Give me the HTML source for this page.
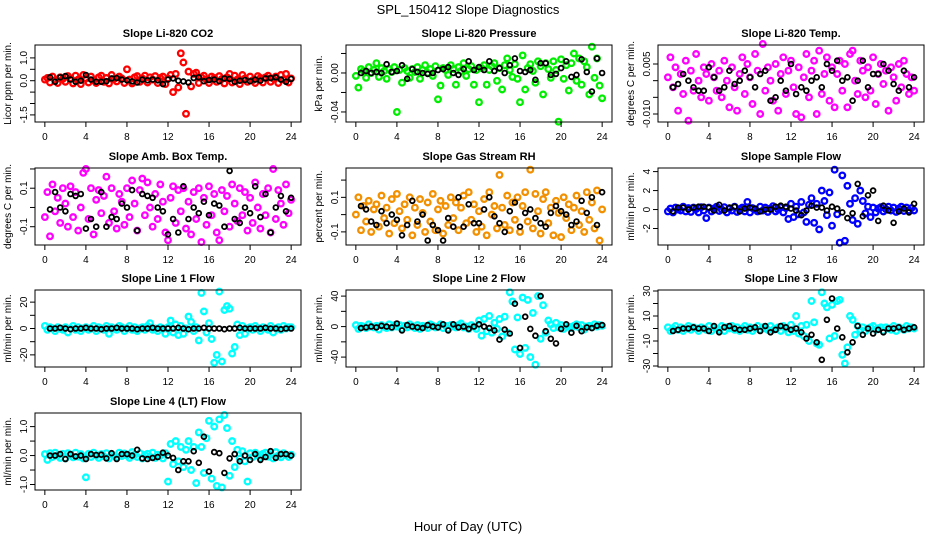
<!DOCTYPE html>
<html><head><meta charset="utf-8">
<style>
html,body{margin:0;padding:0;background:#fff;}
svg{display:block;font-family:"Liberation Sans",sans-serif;}
</style></head>
<body>
<svg id="chart" width="936" height="540" viewBox="0 0 936 540">
<text x="468" y="14" text-anchor="middle" font-size="13">SPL_150412  Slope Diagnostics</text>
<text x="468" y="531" text-anchor="middle" font-size="13">Hour of Day (UTC)</text>
</svg>
<script>
const hoursColored = [0,0.25,0.5,0.75,1,1.25,1.5,1.75,2,2.25,2.5,2.75,3,3.25,3.5,3.75,4,4.25,4.5,4.75,5,5.25,5.5,5.75,6,6.25,6.5,6.75,7,7.25,7.5,7.75,8,8.25,8.5,8.75,9,9.25,9.5,9.75,10,10.25,10.5,10.75,11,11.25,11.5,11.75,12,12.25,12.5,12.75,13,13.25,13.5,13.75,14,14.25,14.5,14.75,15,15.25,15.5,15.75,16,16.25,16.5,16.75,17,17.25,17.5,17.75,18,18.25,18.5,18.75,19,19.25,19.5,19.75,20,20.25,20.5,20.75,21,21.25,21.5,21.75,22,22.25,22.5,22.75,23,23.25,23.5,23.75,24];
const hoursBlack = [0.5,1,1.5,2,2.5,3,3.5,4,4.5,5,5.5,6,6.5,7,7.5,8,8.5,9,9.5,10,10.5,11,11.5,12,12.5,13,13.5,14,14.5,15,15.5,16,16.5,17,17.5,18,18.5,19,19.5,20,20.5,21,21.5,22,22.5,23,23.5,24];
const xTicks = [0,4,8,12,16,20,24];

const co2Colored = [0.05,0.12,-0.08,0.18,0.02,-0.1,0.15,0.08,-0.05,0.2,0.1,-0.12,0.22,0.05,-0.15,0.25,0.1,-0.08,0.18,0.02,-0.1,0.15,0.22,-0.05,0.12,-0.12,0.25,0.08,-0.03,0.18,0.1,-0.1,0.5,0.05,-0.12,0.15,0.2,-0.05,0.1,0.22,-0.08,0.15,0.05,0.2,-0.1,0.12,0.18,-0.15,0.1,0.25,-0.5,0.3,-0.3,1.2,0.8,-1.45,0.4,-0.25,0.3,0.35,-0.1,0.15,0.22,0.05,-0.1,0.18,0.12,-0.05,0.2,0.08,-0.12,0.15,0.3,-0.08,0.22,0.05,-0.15,0.25,0.1,-0.05,0.18,0.02,-0.1,0.2,0.12,-0.08,0.15,0.22,-0.05,0.1,0.18,-0.1,0.25,0.05,0.3,-0.08,0.1];
const co2Black = [0.15,-0.05,0.15,0.2,0.05,-0.05,0.0,0.25,0.05,-0.05,-0.05,-0.02,0.1,0.12,0.05,0.02,-0.03,-0.08,0.05,0.02,0.05,0.02,-0.15,0.05,0.1,0.0,-0.03,-0.08,0.12,0.15,-0.02,0.03,0.05,-0.02,0.1,0.08,-0.05,0.0,0.03,-0.02,0.05,0.0,0.1,0.12,0.15,0.05,-0.05,0.08];

const pressColored = [-0.003,-0.015,0.004,0.002,-0.005,0.006,0.0,0.003,0.01,-0.004,0.005,0.002,-0.006,0.004,0.001,0.006,-0.04,0.003,-0.01,0.005,0.002,-0.005,0.004,0.001,0.006,-0.006,0.003,0.008,0.0,0.004,-0.003,0.007,-0.027,-0.013,0.005,0.003,-0.002,0.008,0.004,-0.012,0.006,0.002,0.01,-0.003,0.004,0.007,-0.012,0.003,-0.03,0.005,0.008,-0.012,0.003,0.007,0.01,-0.008,0.005,-0.017,0.008,0.015,0.003,-0.004,0.009,-0.006,-0.03,0.018,-0.017,0.005,0.009,0.002,-0.01,0.012,0.007,-0.022,0.01,0.004,-0.005,0.012,0.003,-0.05,0.014,-0.006,0.008,-0.018,0.01,0.02,-0.008,0.015,-0.012,0.012,0.006,-0.022,0.027,-0.005,0.015,-0.013,-0.026];
const pressBlack = [0.0,0.002,0.0,0.001,0.0,0.009,0.001,0.002,0.008,-0.006,0.004,0.001,0.0,-0.001,0.0,0.003,0.004,0.006,0.0,-0.002,0.004,0.012,0.003,0.006,0.003,0.012,0.002,0.005,0.0,0.008,0.015,0.002,0.001,0.003,-0.007,0.01,0.01,-0.002,-0.001,0.005,0.012,-0.004,-0.002,0.014,0.001,-0.019,0.015,0.0];

const tempColored = [0.001,0.007,-0.002,0.004,-0.009,0.002,-0.004,0.006,-0.012,0.003,-0.003,0.008,0.0,-0.005,0.004,0.002,-0.006,0.005,0.001,-0.003,0.003,-0.005,0.006,0.0,-0.008,0.004,-0.002,-0.009,0.002,0.007,-0.004,0.005,0.001,-0.007,0.008,0.003,-0.01,0.011,-0.003,0.004,0.0,-0.006,0.005,-0.009,0.002,0.007,-0.004,0.003,0.006,-0.002,-0.01,0.004,-0.011,0.001,0.008,-0.005,0.003,0.006,-0.01,0.009,-0.004,0.002,0.007,-0.006,0.004,-0.008,0.002,0.006,-0.003,0.005,-0.008,0.008,0.009,0.0,-0.004,0.006,0.003,-0.005,0.004,-0.003,0.007,-0.007,0.002,0.005,-0.001,0.003,-0.009,0.004,0.001,-0.006,0.005,-0.002,0.006,0.002,-0.004,0.001,-0.003];
const tempBlack = [-0.002,-0.001,0.002,0.0,-0.002,-0.003,-0.003,0.004,0.001,-0.003,-0.002,0.003,-0.001,0.0,0.003,0.001,-0.002,0.002,0.003,-0.006,-0.005,0.0,-0.003,0.005,-0.004,-0.002,-0.003,0.0,0.001,-0.002,0.005,0.003,0.006,0.0,0.001,-0.006,0.0,0.006,-0.002,0.002,0.002,0.005,0.003,-0.001,-0.003,0.003,-0.002,0.001];

const boxColored = [-0.05,0.08,-0.15,0.12,-0.02,0.05,-0.08,0.1,0.02,-0.1,0.11,-0.05,0.08,-0.12,0.0,0.18,0.2,-0.06,0.1,-0.14,0.04,0.09,-0.03,0.06,0.16,-0.08,0.1,-0.02,-0.11,0.07,0.03,-0.09,0.1,-0.05,0.14,0.02,-0.12,0.09,0.15,-0.04,0.13,0.0,-0.1,0.07,-0.06,0.12,0.03,-0.13,-0.17,0.05,0.11,-0.08,0.09,-0.02,0.1,-0.11,0.03,-0.14,0.08,-0.06,0.1,-0.18,0.05,-0.09,0.11,-0.04,0.07,-0.13,-0.17,0.09,-0.02,0.06,-0.1,0.12,0.02,-0.07,0.1,-0.04,0.08,-0.12,0.05,-0.08,0.13,0.0,-0.11,0.07,-0.04,0.1,-0.13,0.2,-0.06,0.09,0.02,-0.09,0.12,-0.03,0.04];
const boxBlack = [-0.01,0.08,0.0,-0.02,0.07,0.06,0.07,-0.11,-0.06,-0.1,0.08,-0.1,-0.05,-0.06,0.02,0.0,0.09,-0.12,0.07,0.06,0.05,0.0,-0.02,-0.14,-0.06,-0.13,0.11,-0.06,0.0,-0.03,0.03,-0.04,0.02,0.01,-0.1,0.19,-0.06,-0.08,0.0,-0.03,0.11,-0.05,0.07,-0.13,0.0,0.06,-0.02,0.05];

const rhColored = [0.0,0.1,-0.09,0.05,-0.04,0.08,-0.1,0.03,0.06,-0.07,0.11,-0.02,0.04,-0.11,0.09,-0.05,0.12,0.02,-0.08,0.06,-0.03,0.1,-0.12,0.04,-0.06,0.09,0.01,-0.1,0.07,-0.04,0.12,-0.09,0.03,0.08,-0.11,0.05,-0.06,0.1,-0.02,0.07,-0.09,0.04,0.11,-0.05,0.13,-0.03,0.06,-0.1,0.02,-0.07,0.09,-0.12,0.13,0.0,0.05,-0.08,0.23,0.04,-0.06,0.11,-0.09,0.07,-0.03,0.1,-0.1,0.05,0.13,-0.04,0.26,-0.08,0.12,0.02,-0.11,0.09,0.13,-0.05,0.04,-0.12,0.08,0.01,-0.13,0.1,-0.02,0.06,-0.09,0.04,0.11,-0.06,0.02,-0.1,0.13,-0.03,0.07,-0.08,0.14,-0.15,0.03];
const rhBlack = [0.05,0.03,-0.04,-0.06,0.02,-0.05,0.0,-0.03,-0.12,-0.06,0.08,-0.04,0.0,-0.15,-0.06,-0.09,-0.15,-0.02,-0.07,0.1,-0.07,0.06,-0.05,-0.05,0.03,0.1,-0.01,-0.05,-0.1,0.02,0.07,-0.07,0.01,0.03,-0.02,-0.05,-0.07,0.01,0.05,0.02,0.0,-0.06,-0.04,0.08,0.01,0.1,-0.06,0.13];

const sampleColored = [-0.2,0.1,-0.3,0.2,0.0,-0.1,0.3,-0.2,0.15,-0.25,0.2,0.05,-0.3,0.25,-0.1,-0.9,0.2,-0.2,0.1,0.3,-0.15,0.0,0.25,-0.3,0.1,-0.1,0.3,-0.25,0.05,0.2,-0.2,0.8,-0.3,0.15,0.0,-0.2,0.3,-0.1,0.2,-0.25,0.1,0.35,-0.2,0.0,0.25,-0.3,0.15,-1.0,0.6,-0.8,0.3,-0.5,0.8,-0.3,-1.3,0.5,1.2,-1.4,0.6,-2.1,2.0,0.9,-0.6,1.8,-1.7,4.2,-0.5,-3.5,3.6,-3.3,2.5,0.6,-1.1,1.2,-1.5,2.0,0.9,-0.4,0.3,-0.8,0.2,-0.3,0.1,0.25,-0.2,0.05,0.3,-0.1,0.2,-0.25,0.1,0.3,-0.15,0.2,-0.1,0.15,-0.1];
const sampleBlack = [-0.2,0.2,0.2,0.0,0.2,0.3,0.3,0.2,-0.1,0.5,-0.1,0.2,0.3,-0.2,0.1,0.2,0.1,-0.2,0.0,0.0,0.3,0.4,0.3,0.1,-0.1,-0.6,-0.1,0.4,0.2,0.2,-0.1,0.3,0.1,-0.3,-0.9,-0.4,2.7,-0.7,1.5,2.0,-1.2,0.4,-0.1,-1.4,-0.2,0.1,-0.3,0.6];

const line1Colored = [2,-1,1,0,-2,1,0,-1,1,-3,0,2,-1,1,-2,0,1,-1,0,2,-2,1,0,-1,2,-4,1,0,-1,2,1,-2,0,2,-1,1,-2,0,1,-1,2,4,-1,0,-2,1,0,-4,1,6,-3,3,-5,2,-4,0,9,5,-2,1,-9,27,13,-3,4,-8,-26,-20,28,-25,14,17,15,-19,-14,3,-5,2,-4,0,1,-1,2,0,-2,1,0,-1,2,-3,0,1,-1,2,0,1,1];
const line1Black = [0,0,0.5,0,-0.5,0,0,0.5,0,0,-0.5,0,0,0.5,0,0,0,-0.5,0,0,0.5,0,0,0,0,0.5,0,-0.5,0,0,0.5,0,0,0,-0.5,0,0,0.5,0,0,0,0,0.5,0,0,-0.5,0,0];

const line2Colored = [2,-3,1,0,-2,3,0,-1,1,-4,2,0,-2,3,-1,2,0,2,-3,1,-1,3,0,-2,2,-3,1,0,-2,3,1,-1,0,3,-2,1,-3,2,0,-1,2,4,-1,0,-3,2,0,-3,8,-12,10,-6,14,-8,5,-3,10,-13,13,-8,45,33,-30,12,-36,38,-28,35,-40,18,-50,40,-16,28,-8,8,3,-2,5,-1,2,-3,1,0,-2,1,3,-1,2,-4,0,1,-1,3,0,2,1];
const line2Black = [-2,-1,0,-1,1,0,-1,4,-5,2,0,-1,-2,2,0,-1,3,-5,3,-1,0,-3,0,3,0,-2,-5,-17,-4,-9,30,-28,13,-3,-12,40,-6,-16,-22,-3,3,-8,1,-6,-1,-2,1,2];

const line3Colored = [1,-2,0,2,-1,1,-2,0,2,-1,1,0,-2,1,0,-1,2,-2,1,0,-1,2,-2,1,0,2,-1,1,-2,0,2,-1,1,-2,0,2,-1,1,0,-1,2,-1,0,1,-2,2,0,-3,3,-2,10,-4,2,-6,3,-10,22,5,-12,-13,29,20,17,-8,19,-6,22,23,-21,-28,-15,10,7,-5,2,-1,1,-2,0,1,2,-1,0,1,-2,1,0,-1,2,-2,1,0,-1,2,0,1,0];
const line3Black = [-2,-1,0,0,1,0,0,-2,2,-3,1,2,0,-1,-1,0,1,-2,2,-3,-1,2,1,-1,0,-3,-8,-5,-11,-25,7,24,0,-7,-19,-11,2,-5,0,-4,-1,-3,0,0,1,-1,0,1];

const line4Colored = [0.05,-0.15,0.08,-0.05,0.1,0.0,-0.08,0.06,-0.1,0.08,0.02,-0.06,0.1,-0.04,0.05,-0.1,-0.75,0.06,-0.05,0.1,0.0,-0.08,0.05,-0.03,0.08,-0.1,0.04,0.0,-0.06,0.1,-0.02,0.07,0.0,-0.08,0.12,0.03,-0.05,0.08,-0.1,0.02,0.06,-0.04,0.1,-0.08,0.03,0.0,-0.1,0.08,-0.9,0.4,-0.3,0.5,-0.2,0.3,-0.4,0.2,0.5,-0.5,0.3,-0.95,0.8,0.3,-0.6,0.6,1.2,-0.8,1.0,-1.05,1.25,-1.1,1.4,0.95,-0.7,0.5,-0.4,0.2,-0.1,0.15,-0.2,-0.9,0.08,-0.05,0.1,0.0,-0.08,0.06,0.1,-0.04,0.05,-0.1,0.12,0.0,-0.06,0.08,0.02,-0.05,0.03];
const line4Black = [0.0,0.0,0.05,-0.12,0.05,-0.03,0.0,-0.12,0.05,0.02,0.03,-0.1,0.08,-0.12,0.05,0.05,0.0,0.2,-0.1,-0.12,-0.08,-0.05,0.1,0.0,-0.08,-0.5,-0.2,-0.2,0.15,-0.25,0.65,-0.55,0.12,0.08,-0.6,-0.1,0.05,-0.2,0.0,-0.15,0.05,-0.15,-0.05,0.15,-0.08,0.05,0.05,0.0];

const panelTitles = ["Slope Li-820 CO2","Slope Li-820 Pressure","Slope Li-820 Temp.","Slope Amb. Box Temp.","Slope Gas Stream RH","Slope Sample Flow","Slope Line 1 Flow","Slope Line 2 Flow","Slope Line 3 Flow","Slope Line 4 (LT) Flow"];
const panelYLabels = ["Licor ppm per min.","kPa per min.","degrees C per min.","degrees C per min.","percent per min.","ml/min per min.","ml/min per min.","ml/min per min.","ml/min per min.","ml/min per min."];
const panelColors = ["#ff0000","#00ee00","#ff00ff","#ff00ff","#f29000","#0000ff","#00ffff","#00ffff","#00ffff","#00ffff"];
const panelColored = [co2Colored,pressColored,tempColored,boxColored,rhColored,sampleColored,line1Colored,line2Colored,line3Colored,line4Colored];
const panelBlack = [co2Black,pressBlack,tempBlack,boxBlack,rhBlack,sampleBlack,line1Black,line2Black,line3Black,line4Black];
const panelYMin = [-1.811,-0.0503,-0.0124,-0.195,-0.176,-3.74,-29.2,-53,-30.8,-1.19];
const panelYMax = [1.566,0.0287,0.0107,0.205,0.27,4.38,29.2,48,30.8,1.47];
const panelYTicks = [[-1.5,-1,-0.5,0,0.5,1],[-0.04,-0.02,0,0.02],[-0.01,-0.005,0,0.005],[-0.1,0,0.1,0.2],[-0.1,0,0.1,0.2],[-2,0,2,4],[-20,-10,0,10,20],[-40,-20,0,20,40],[-30,-20,-10,0,10,20,30],[-1,-0.5,0,0.5,1]];
const panelYTickLabels = [["-1.5","","","0.0","","1.0"],["-0.04","","0.00",""],["-0.010","","","0.005"],["-0.1","","0.1",""],["-0.1","","0.1",""],["-2","0","2","4"],["-20","","0","","20"],["-40","","0","","40"],["-30","","-10","","10","","30"],["-1.0","","0.0","","1.0"]];

const NS = "http://www.w3.org/2000/svg";
const svg = document.getElementById("chart");
const colLeft = [35,346,658];
const rowTop = [45,168,290,413];
const BW = 266, BH = 77;
function mk(tag, attrs, parent){
  const e = document.createElementNS(NS, tag);
  for (const k in attrs) e.setAttribute(k, attrs[k]);
  (parent||svg).appendChild(e);
  return e;
}
function slug(s){return s.toLowerCase().replace(/[^a-z0-9]+/g,'-').replace(/^-|-$/g,'');}

panelTitles.forEach((title, i) => {
  const L = colLeft[i % 3], T = rowTop[Math.floor(i / 3)];
  const xs = h => L + (h + 0.96) / 25.92 * BW;
  const ys = v => T + BH - (v - panelYMin[i]) / (panelYMax[i] - panelYMin[i]) * BH;
  const g = mk("g", {});
  
  
  const t = mk("text", {x: L + BW/2, y: T - 8, "text-anchor": "middle", "font-size": "11", "font-weight": "bold"}, g);
  t.textContent = title;
  
  
  const yl = mk("text", {transform: `translate(${L-24},${T+BH/2}) rotate(-90)`, "text-anchor": "middle", "font-size": "10"}, g);
  yl.textContent = panelYLabels[i];
  
  
  const cg = mk("g", {fill: "none", stroke: panelColors[i], "stroke-width": "2.3"}, g);
  
  
  panelColored[i].forEach((v, j) => {
    const c = mk("circle", {cx: xs(hoursColored[j]).toFixed(1), cy: ys(v).toFixed(1), r: "2.8"}, cg);
    
    
  });
  const bg = mk("g", {fill: "none", stroke: "#000", "stroke-width": "1.8"}, g);
  
  
  panelBlack[i].forEach((v, j) => {
    const c = mk("circle", {cx: xs(hoursBlack[j]).toFixed(1), cy: ys(v).toFixed(1), r: "2.4"}, bg);
    
    
  });
  const b = mk("rect", {x: L, y: T, width: BW, height: BH, fill: "none", stroke: "#000", "stroke-width": "1"}, g);
  
  
  const xa = mk("g", {stroke: "#000", "stroke-width": "1"}, g);
  
  
  xTicks.forEach(h => {
    mk("line", {x1: xs(h), x2: xs(h), y1: T+BH, y2: T+BH+5}, xa);
    const tl = mk("text", {x: xs(h), y: T+BH+18, "text-anchor": "middle", "font-size": "10", stroke: "none"}, xa);
    tl.textContent = String(h);
    
    
  });
  const ya = mk("g", {stroke: "#000", "stroke-width": "1"}, g);
  
  
  panelYTicks[i].forEach((v, j) => {
    mk("line", {x1: L-5, x2: L, y1: ys(v), y2: ys(v)}, ya);
    const lab = panelYTickLabels[i][j];
    if (lab) {
      const tl = mk("text", {transform: `translate(${L-8},${ys(v)}) rotate(-90)`, "text-anchor": "middle", "font-size": "10", stroke: "none"}, ya);
      tl.textContent = lab;
      
      
    }
  });
});
</script>
</body></html>
